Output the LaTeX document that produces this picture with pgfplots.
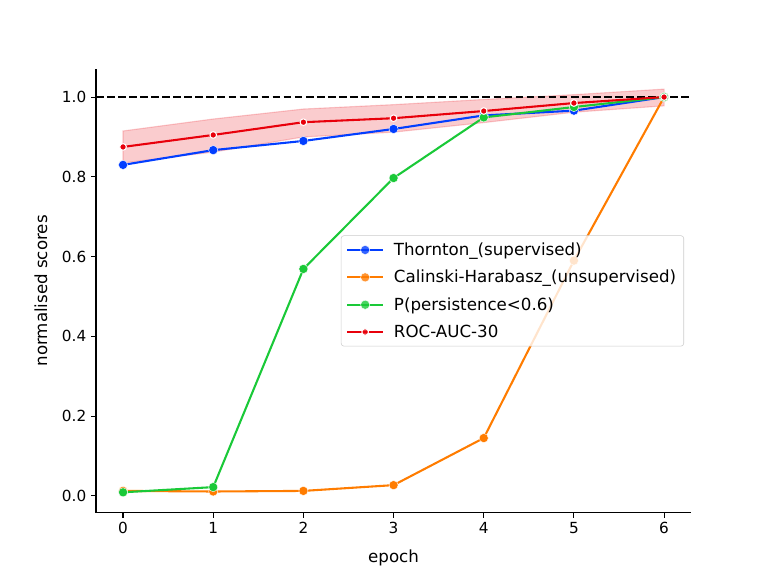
\documentclass[border=0pt]{standalone}
\usepackage{pgfplots}
\pgfplotsset{compat=1.18}
\usepackage{fontspec}
\setmainfont{DejaVu Sans}
\definecolor{sbblue}{HTML}{023EFF}
\definecolor{sborange}{HTML}{FF7C00}
\definecolor{sbgreen}{HTML}{1AC938}
\definecolor{sbred}{HTML}{E8000B}
\begin{document}
\begin{tikzpicture}
\path (-69.12pt,-45.62pt) rectangle ++(552.96pt,414.72pt);
\begin{axis}[
  at={(0,0)}, anchor=south west,
  scale only axis, width=428.5pt, height=319.3pt,
  xmin=-0.3, xmax=6.3, ymin=-0.042, ymax=1.07,
  axis lines=left, axis line style={-, line width=0.8pt},
  tick align=outside, major tick length=3.5pt,
  tick style={black, line width=0.8pt},
  xtick={0,1,2,3,4,5,6},
  ytick={0,0.2,0.4,0.6,0.8,1.0},
  yticklabel style={/pgf/number format/fixed, /pgf/number format/fixed zerofill, /pgf/number format/precision=1},
  /pgf/number format/assume math mode=true,
  tick label style={font=\fontsize{11}{13}\selectfont},
  label style={font=\fontsize{12}{14}\selectfont},
  xlabel={epoch}, ylabel={normalised scores},
  xlabel style={at={(axis description cs:0.5,0)}, anchor=center, yshift=-32.4pt},
  ylabel style={at={(axis description cs:0,0.5)}, anchor=center, yshift=39.6pt},
  legend image code/.code={\path (0pt,0pt) (31pt,0pt); \draw[mark repeat=2,mark phase=2] plot coordinates {(0pt,0pt) (13pt,0pt) (26pt,0pt)};},
  legend style={at={(axis description cs:0.988,0.5)}, anchor=east, font=\fontsize{12}{14}\selectfont,
    draw=black!20, rounded corners=2pt, fill=white, fill opacity=0.8, text opacity=1,
    row sep=5.1pt, inner xsep=3.5pt, inner ysep=3pt, cells={anchor=west}},
  legend cell align=left,
  clip=false,
]
% confidence band of ROC-AUC-30
\addplot[forget plot, fill=sbred, fill opacity=0.2, draw=sbred, draw opacity=0.2, line width=0.8pt] coordinates {
 (0,0.915) (1,0.945) (2,0.970) (3,0.981) (4,0.994) (5,1.006) (6,1.020)
 (6,0.978) (5,0.962) (4,0.936) (3,0.912) (2,0.900) (1,0.862) (0,0.835)} -- cycle;
\addplot[forget plot, black, line width=1.5pt, dash pattern=on 5.55pt off 2.4pt] coordinates {(-0.3,1) (6.3,1)};
\addplot[sbblue, line width=1.5pt, mark=*, mark size=3.3pt, mark options={fill=sbblue, draw=white, line width=0.3pt}] coordinates {
 (0,0.830) (1,0.867) (2,0.890) (3,0.920) (4,0.954) (5,0.966) (6,1.0)};
\addlegendentry{Thornton\_(supervised)}
\addplot[sborange, line width=1.5pt, mark=*, mark size=3.3pt, mark options={fill=sborange, draw=white, line width=0.3pt}] coordinates {
 (0,0.0125) (1,0.011) (2,0.0125) (3,0.027) (4,0.145) (5,0.590) (6,1.0)};
\addlegendentry{Calinski-Harabasz\_(unsupervised)}
\addplot[sbgreen, line width=1.5pt, mark=*, mark size=3.3pt, mark options={fill=sbgreen, draw=white, line width=0.3pt}] coordinates {
 (0,0.009) (1,0.022) (2,0.569) (3,0.797) (4,0.949) (5,0.975) (6,1.0)};
\addlegendentry{P(persistence<0.6)}
\addplot[sbred, line width=1.5pt, mark=*, mark size=2.4pt, mark options={fill=sbred, draw=white, line width=0.75pt}] coordinates {
 (0,0.875) (1,0.905) (2,0.937) (3,0.947) (4,0.965) (5,0.985) (6,1.0)};
\addlegendentry{ROC-AUC-30}
\end{axis}
\end{tikzpicture}
\end{document}
